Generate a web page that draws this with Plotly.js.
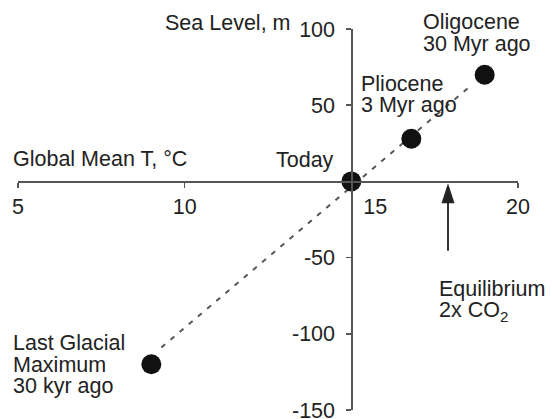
<!DOCTYPE html>
<html>
<head>
<meta charset="utf-8">
<script src="https://cdn.plot.ly/plotly-3.0.1.min.js"></script>
<style>html,body{margin:0;padding:0;background:#fff;}#chart{width:552px;height:419px;}</style>
</head>
<body>
<div id="chart"></div>
<script>
// Data
var periods = ["Last Glacial Maximum", "Today", "Pliocene", "Oligocene"];
var globalMeanT = [9.0, 15.0, 16.8, 19.0];
var seaLevel = [-120, 0, 28, 70];
var trendT = [9.3, 18.6];
var trendSea = [-109, 63];
var co2T = [17.9, 17.9];
var co2Shaft = [-45.5, -12];
var co2Tip = [-1.2];
var xTicks = [5, 10, 15, 20];
var xTickText = ["5", "10", "\u00a0\u00a0\u00a0\u00a0\u00a0\u00a0\u00a0\u00a015", "20"];
var yTicks = [-150, -100, -50, 0, 50, 100];
var yTickText = ["-150", "-100", "-50", "", "50", "100"];

var FONT = "Liberation Sans, Arial, Helvetica, sans-serif";
var TXT = "#222";
var AX = "#555";
var FS = 21.5;

var traces = [
  {x: trendT, y: trendSea, mode: "lines", type: "scatter",
   line: {color: "#555", width: 2, dash: "5px,7px"}, hoverinfo: "skip"},
  {x: co2T, y: co2Shaft, mode: "lines", type: "scatter",
   line: {color: "#333", width: 2}, hoverinfo: "skip"},
  {x: [co2T[0]], y: co2Tip, mode: "markers", type: "scatter",
   marker: {symbol: "arrow", angle: 0, size: 21, color: "#222"}, hoverinfo: "skip"},
  {x: globalMeanT, y: seaLevel, text: periods, mode: "markers", type: "scatter",
   marker: {size: 20, color: "#111"}}
];

// plot area: left 18px, width 500.3px; top 29px, height 381px
function px(p) { return (p - 18) / 500.3; }
function py(p) { return (410 - p) / 381; }
function ann(text, xp, yp, xanchor) {
  return {text: text, x: px(xp), y: py(yp), xref: "paper", yref: "paper",
          xanchor: xanchor, yanchor: "middle", showarrow: false,
          font: {family: FONT, size: FS, color: TXT}};
}

var layout = {
  width: 552, height: 419,
  margin: {l: 18, r: 33.7, t: 29, b: 9, pad: 0},
  paper_bgcolor: "#fff", plot_bgcolor: "#fff",
  showlegend: false,
  font: {family: FONT, size: FS, color: TXT},
  xaxis: {range: [5, 20], anchor: "free", position: 0.6, showgrid: false, zeroline: false,
          showline: true, linecolor: AX, linewidth: 1.5, ticks: "outside", ticklen: 5,
          tickwidth: 1.5, tickcolor: AX, tickvals: xTicks, ticktext: xTickText,
          ticklabeloverflow: "allow",
          tickfont: {family: FONT, size: FS, color: TXT}, automargin: false, fixedrange: true},
  yaxis: {range: [-150, 100], anchor: "free", position: 10/15, showgrid: false, zeroline: false,
          showline: true, linecolor: AX, linewidth: 1.5, ticks: "outside", ticklen: 5,
          tickwidth: 1.5, tickcolor: AX, tickvals: yTicks, ticktext: yTickText,
          ticklabeloverflow: "allow", ticklabelstandoff: 7,
          tickfont: {family: FONT, size: FS, color: TXT}, automargin: false, fixedrange: true},
  annotations: [
    ann("Sea Level, m", 292.5, 23.3, "right"),
    ann("Global Mean T, \u00b0C", 10.5, 159, "left"),
    ann("Today", 336.5, 160, "right"),
    ann("Pliocene", 359, 84.2, "left"),
    ann("3 Myr ago", 359, 105, "left"),
    ann("Oligocene", 421.3, 21.7, "left"),
    ann("30 Myr ago", 421.3, 43.7, "left"),
    ann("Equilibrium", 437, 288.5, "left"),
    ann("2x CO<sub>2</sub>", 437, 311.3, "left"),
    ann("Last Glacial", 10.5, 342.5, "left"),
    ann("Maximum", 10.5, 365.2, "left"),
    ann("30 kyr ago", 10.5, 386.3, "left")
  ]
};

Plotly.newPlot("chart", traces, layout, {displayModeBar: false, staticPlot: true});
</script>
</body>
</html>
